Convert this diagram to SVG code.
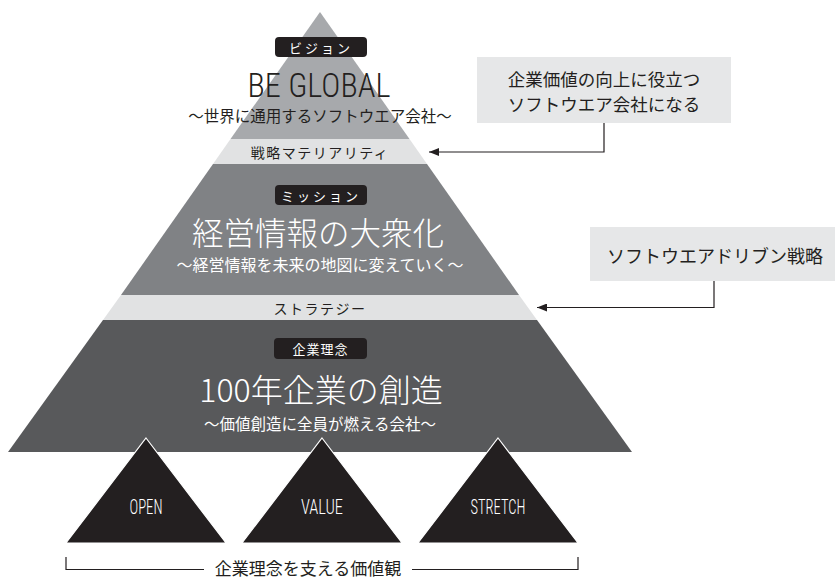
<svg xmlns="http://www.w3.org/2000/svg" width="835" height="578" viewBox="0 0 835 578">
<defs>
<style>
.jp{font-family:"Noto Sans CJK JP","Noto Sans",sans-serif;}
.cond{font-family:"Roboto Condensed","Roboto","Liberation Sans",sans-serif;}
.dark{fill:#231f20;}
.white{fill:#ffffff;}
.badge{fill:#231f20;}
.conn{fill:none;stroke:#231f20;stroke-width:1.2;}
.box{fill:#e6e7e8;}
.tri{fill:#231f20;stroke:#ffffff;stroke-width:1.2;}
</style>
<marker id="arr" viewBox="0 0 10 8" refX="10" refY="4" markerWidth="10" markerHeight="8" markerUnits="userSpaceOnUse" orient="auto">
<path d="M0,0 L10,4 L0,8 Z" fill="#231f20"/>
</marker>
</defs>
<rect width="835" height="578" fill="#ffffff"/>

<g id="vision">
<polygon points="320,12 230.5,139 409.5,139" fill="#a7a9ac"/>
<rect x="275" y="37" width="92" height="20" rx="4" class="badge"/>
<text x="321" y="47" class="jp white" font-size="13" letter-spacing="3" text-anchor="middle" dominant-baseline="central">ビジョン</text>
<text x="319" y="97" class="cond dark" font-size="34" font-weight="300" text-anchor="middle" textLength="143" lengthAdjust="spacingAndGlyphs">BE GLOBAL</text>
<text x="320" y="115" class="jp dark" font-size="15.5" text-anchor="middle" dominant-baseline="central">〜世界に通用するソフトウエア会社〜</text>
</g>

<g id="materiality">
<polygon points="230.5,139 409.5,139 427,164 213,164" fill="#e1e2e3"/>
<text x="320" y="151.5" class="jp dark" font-size="14" letter-spacing="1.5" text-anchor="middle" dominant-baseline="central">戦略マテリアリティ</text>
</g>

<g id="mission">
<polygon points="213,164 427,164 519,295 121,295" fill="#808285"/>
<rect x="275" y="185" width="92" height="20" rx="4" class="badge"/>
<text x="321" y="195" class="jp white" font-size="13" letter-spacing="3" text-anchor="middle" dominant-baseline="central">ミッション</text>
<text x="318" y="231" class="jp white" font-size="31.5" font-weight="300" text-anchor="middle" dominant-baseline="central">経営情報の大衆化</text>
<text x="320" y="264" class="jp white" font-size="16" text-anchor="middle" dominant-baseline="central">〜経営情報を未来の地図に変えていく〜</text>
</g>

<g id="strategy">
<polygon points="121,295 519,295 537,320 103,320" fill="#e1e2e3"/>
<text x="320" y="307.5" class="jp dark" font-size="14" letter-spacing="1.5" text-anchor="middle" dominant-baseline="central">ストラテジー</text>
</g>

<g id="philosophy">
<polygon points="103,320 537,320 632,452 8,452" fill="#58595b"/>
<rect x="274" y="338" width="93" height="21" rx="4" class="badge"/>
<text x="320.5" y="348.5" class="jp white" font-size="13" letter-spacing="1" text-anchor="middle" dominant-baseline="central">企業理念</text>
<text x="321" y="388" class="jp white" font-size="32" font-weight="300" text-anchor="middle" dominant-baseline="central">100年企業の創造</text>
<text x="320" y="423" class="jp white" font-size="15.5" text-anchor="middle" dominant-baseline="central">〜価値創造に全員が燃える会社〜</text>
</g>

<g id="value-open">
<polygon points="146,438 226,543 66,543" class="tri"/>
<text x="146" y="514" class="cond white" font-size="20" font-weight="300" text-anchor="middle" textLength="33" lengthAdjust="spacingAndGlyphs">OPEN</text>
</g>
<g id="value-value">
<polygon points="322,438 402,543 242,543" class="tri"/>
<text x="322" y="514" class="cond white" font-size="20" font-weight="300" text-anchor="middle" textLength="42" lengthAdjust="spacingAndGlyphs">VALUE</text>
</g>
<g id="value-stretch">
<polygon points="498,438 578,543 418,543" class="tri"/>
<text x="498" y="514" class="cond white" font-size="20" font-weight="300" text-anchor="middle" textLength="55" lengthAdjust="spacingAndGlyphs">STRETCH</text>
</g>

<g id="values-label">
<path class="conn" d="M66,557 V569.5 H204 M412,569.5 H578 V557"/>
<text x="308" y="567" class="jp dark" font-size="17" text-anchor="middle" dominant-baseline="central">企業理念を支える価値観</text>
</g>

<g id="box-goal">
<rect x="477" y="57" width="254" height="66" class="box"/>
<text x="604" y="78.5" class="jp dark" font-size="17.5" text-anchor="middle" dominant-baseline="central">企業価値の向上に役立つ</text>
<text x="604" y="103.5" class="jp dark" font-size="17.5" text-anchor="middle" dominant-baseline="central">ソフトウエア会社になる</text>
</g>

<g id="box-strategy">
<rect x="590" y="227" width="245" height="54" class="box"/>
<text x="715" y="254.5" class="jp dark" font-size="18" text-anchor="middle" dominant-baseline="central">ソフトウエアドリブン戦略</text>
</g>

<g id="connectors">
<path class="conn" d="M604,123 V152 H429" marker-end="url(#arr)"/>
<path class="conn" d="M714,281 V307.5 H537" marker-end="url(#arr)"/>
</g>
</svg>
